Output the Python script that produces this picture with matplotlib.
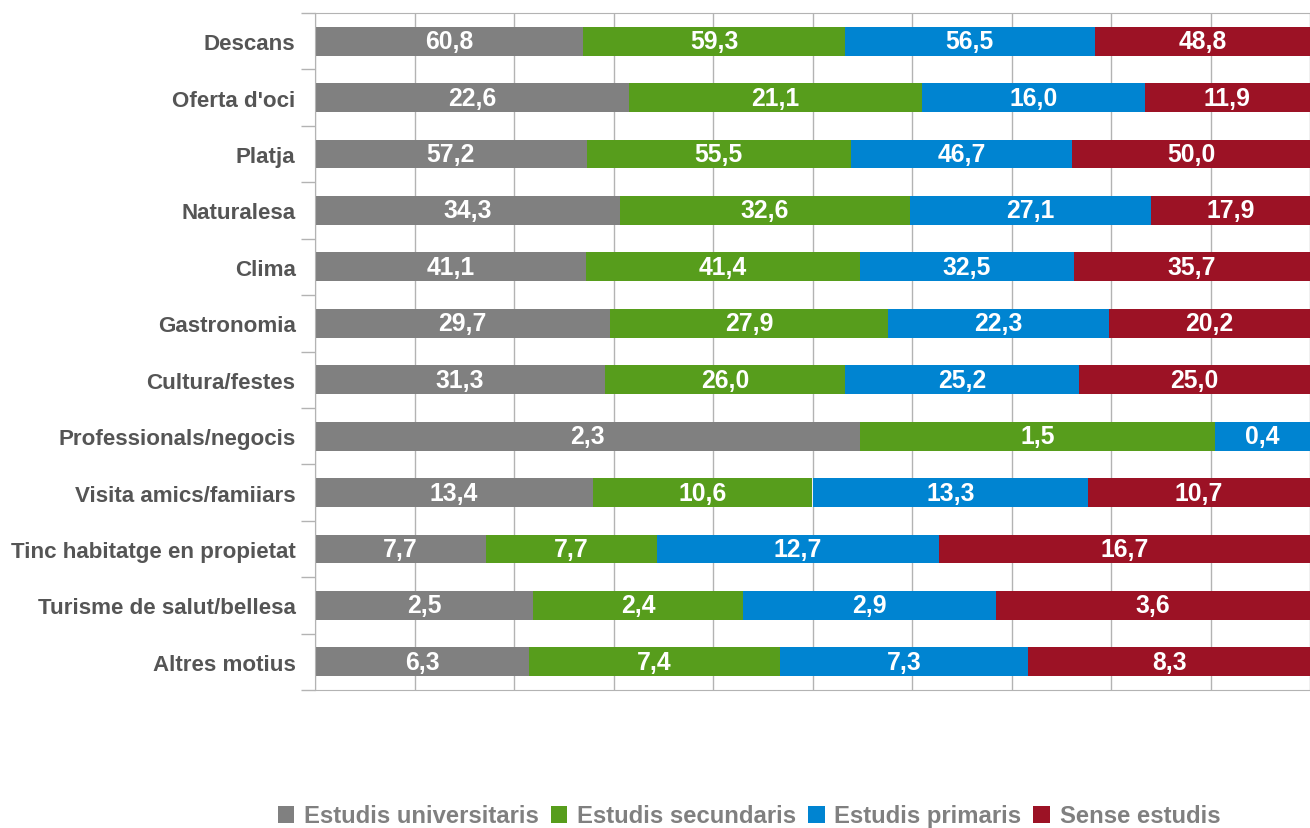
import numpy as np
import matplotlib.pyplot as plt

plt.rcParams['font.family'] = ['Liberation Sans', 'DejaVu Sans']

categories = ['Descans', "Oferta d'oci", 'Platja', 'Naturalesa', 'Clima', 'Gastronomia',
              'Cultura/festes', 'Professionals/negocis', 'Visita amics/famiiars',
              'Tinc habitatge en propietat', 'Turisme de salut/bellesa', 'Altres motius']
series = ['Estudis universitaris', 'Estudis secundaris', 'Estudis primaris', 'Sense estudis']
universitaris = [60.8, 22.6, 57.2, 34.3, 41.1, 29.7, 31.3, 2.3, 13.4, 7.7, 2.5, 6.3]
secundaris = [59.3, 21.1, 55.5, 32.6, 41.4, 27.9, 26.0, 1.5, 10.6, 7.7, 2.4, 7.4]
primaris = [56.5, 16.0, 46.7, 27.1, 32.5, 22.3, 25.2, 0.4, 13.3, 12.7, 2.9, 7.3]
sense = [48.8, 11.9, 50.0, 17.9, 35.7, 20.2, 25.0, 0.0, 10.7, 16.7, 3.6, 8.3]
colors = ['#808080', '#579d1c', '#0084d1', '#9c1225']

vals = np.array([universitaris, secundaris, primaris, sense])
shares = vals / vals.sum(axis=0)  # barres al 100%

fig = plt.figure(figsize=(13.1, 8.29), dpi=100)
ax = fig.add_axes([315 / 1310, 138 / 829, 995 / 1310, 677 / 829])

y = np.arange(len(categories))
left = np.zeros(len(categories))
for i in range(4):
    ax.barh(y, shares[i], left=left, height=0.51, color=colors[i], label=series[i], zorder=2)
    for j in range(len(categories)):
        if vals[i, j] > 0:
            ax.text(left[j] + shares[i, j] / 2, y[j], f'{vals[i, j]:.1f}'.replace('.', ','),
                    ha='center', va='center', color='white', fontsize=17.8, fontweight='bold', zorder=3)
    left += shares[i]

ax.set_xlim(0, 1)
ax.set_ylim(len(categories) - 0.5, -0.5)
ax.set_xticks(np.arange(0, 1.01, 0.1))
ax.tick_params(axis='x', length=0, labelbottom=False)
ax.grid(axis='x', color='#b3b3b3', linewidth=1, zorder=0)
ax.set_yticks(y)
ax.set_yticklabels(categories, fontsize=16.1, fontweight='bold', color='#555555')
ax.set_yticks(np.arange(-0.5, len(categories)), minor=True)
ax.tick_params(axis='y', which='major', length=0, pad=14)
ax.tick_params(axis='y', which='minor', length=10, color='#b3b3b3', width=1)
for s in ['top', 'bottom', 'left']:
    ax.spines[s].set_color('#b3b3b3')
ax.spines['right'].set_visible(False)

fig.legend(loc='center', bbox_to_anchor=(749 / 1310, 12 / 829), ncol=4, frameon=False,
           prop={'size': 17.2, 'weight': 'bold'}, labelcolor='#808080',
           handlelength=0.7, handleheight=0.7, handletextpad=0.4, columnspacing=0.5)

fig.savefig('out.png', dpi=100)
